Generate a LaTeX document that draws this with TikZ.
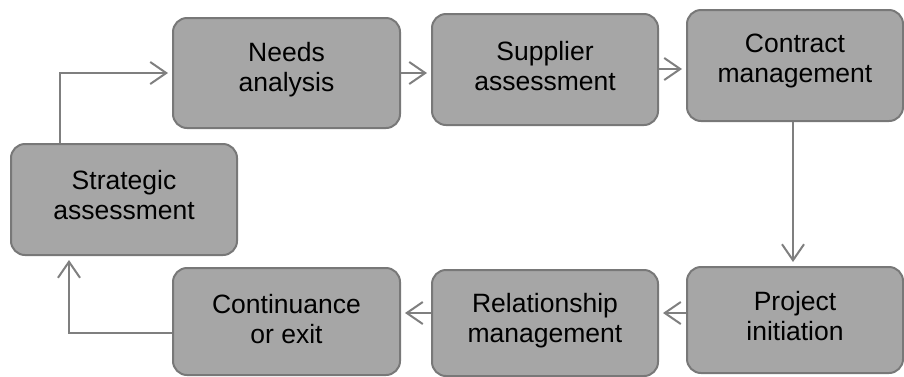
\documentclass[tikz,border=0pt]{standalone}
\usepackage{fontspec}
\setmainfont{Liberation Sans}
\usetikzlibrary{arrows.meta}
\definecolor{boxfill}{HTML}{A6A6A6}
\definecolor{boxline}{HTML}{787878}
\definecolor{arrowcol}{HTML}{7F7F7F}
\tikzset{
  stepbox/.style={draw=boxline, fill=boxfill, line width=2pt, rounded corners=14pt,
    inner sep=0pt, minimum width=#1},
  stepbox/.default=227pt,
  steptext/.style={align=center, font=\fontsize{26.5}{30}\selectfont, text=black, inner sep=0pt},
  flow/.style={draw=arrowcol, line width=2pt, -{Straight Barb[length=16pt,width=22pt,line width=2pt]}, shorten >=4pt}
}
\begin{document}
\begin{tikzpicture}[x=1pt,y=-1pt]
\useasboundingbox (0,0) rectangle (904,376);
% boxes
\node[stepbox=227pt, minimum height=110pt] (na) at (286.5,73) {};
\node[stepbox=226pt, minimum height=111pt] (sa) at (545,69.5) {};
\node[stepbox=216pt, minimum height=111pt] (cm) at (795,65.5) {};
\node[stepbox=226pt, minimum height=111pt] (st) at (124,199.5) {};
\node[stepbox=227pt, minimum height=107pt] (ce) at (286.5,321.5) {};
\node[stepbox=226pt, minimum height=106pt] (rm) at (545,323) {};
\node[stepbox=216pt, minimum height=106pt] (pi) at (795,320) {};
% texts
\node[steptext] (tna) at (286.5,70) {Needs\\analysis};
\node[steptext] (tsa) at (545,66) {Supplier\\assessment};
\node[steptext] (tcm) at (795,61) {Contract\\management};
\node[steptext] (tst) at (124,195) {Strategic\\assessment};
\node[steptext] (tce) at (286.5,319) {Continuance\\or exit};
\node[steptext] (trm) at (545,321) {Relationship\\management};
\node[steptext] (tpi) at (795,316) {Project\\initiation};
% connectors
\coordinate (c1) at (60,73);
\coordinate (c2) at (69,333);
\draw[flow] (st.north -| c1) -- (c1) -- (na.west |- c1);
\draw[flow] (na.east |- 0,73) -- (sa.west |- 0,73);
\draw[flow] (sa.east |- 0,69) -- (cm.west |- 0,69);
\draw[flow] (cm.south -| 793,0) -- (pi.north -| 793,0);
\draw[flow] (pi.west |- 0,313) -- (rm.east |- 0,313);
\draw[flow] (rm.west |- 0,313) -- (ce.east |- 0,313);
\draw[flow] (ce.west |- c2) -- (c2) -- (st.south -| c2);
\end{tikzpicture}
\end{document}
